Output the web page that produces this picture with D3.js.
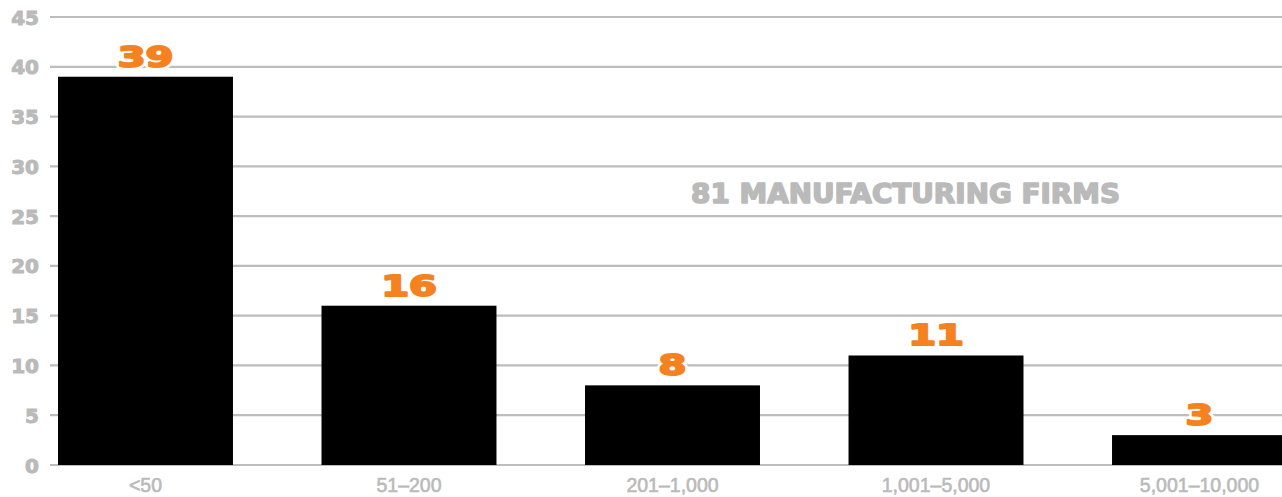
<!DOCTYPE html>
<html><head><meta charset="utf-8">
<script src="https://cdn.jsdelivr.net/npm/d3@7"></script>
<style>
html,body{margin:0;padding:0;background:#fff;overflow:hidden;}
</style></head>
<body>
<svg id="chart" width="1282" height="497"></svg>
<script>
const categories = ["<50", "51–200", "201–1,000", "1,001–5,000", "5,001–10,000"];
const values = [39, 16, 8, 11, 3];
const yTicks = [0, 5, 10, 15, 20, 25, 30, 35, 40, 45];
const title = "81 MANUFACTURING FIRMS";

const svg = d3.select("#chart");
const W = 1282, H = 497;
const gray = "#bababa";
const orange = "#f5821f";

const y = d3.scaleLinear().domain([0, 45]).range([465, 17]);
const x = d3.scaleBand().domain(categories).range([58, 1287]).paddingInner(0.336).paddingOuter(0);

// gridlines
svg.append("g").selectAll("line").data(yTicks).join("line")
  .attr("x1", 50).attr("x2", W)
  .attr("y1", d => y(d)).attr("y2", d => y(d))
  .attr("stroke", "#bdbdbd").attr("stroke-width", 2.2);

// y tick labels
svg.append("g").selectAll("text").data(yTicks).join("text")
  .attr("x", 39).attr("y", d => y(d) + 7.5)
  .attr("text-anchor", "end")
  .attr("font-family", "DejaVu Sans").attr("font-weight", "bold").attr("font-size", 20)
  .attr("fill", gray).attr("stroke", gray).attr("stroke-width", 1)
  .text(d => d);

// bars
svg.append("g").selectAll("rect").data(values).join("rect")
  .attr("x", (d, i) => x(categories[i]))
  .attr("width", x.bandwidth())
  .attr("y", d => y(d))
  .attr("height", d => y(0) - y(d))
  .attr("fill", "#000");

// category labels
svg.append("g").selectAll("text").data(categories).join("text")
  .attr("x", d => x(d) + x.bandwidth() / 2)
  .attr("y", 492)
  .attr("text-anchor", "middle")
  .attr("font-family", "Liberation Sans, Arial").attr("font-size", 19.5)
  .attr("fill", gray).attr("stroke", gray).attr("stroke-width", 0.6)
  .text(d => d);

// value labels: white halo then heavy orange
const vl = svg.append("g");
[["#fff", 6], [orange, 2]].forEach(([sc, sw]) => {
  vl.append("g").selectAll("text").data(values).join("text")
    .attr("transform", (d, i) => `translate(${x(categories[i]) + x.bandwidth() / 2},${y(d) - 10}) scale(1.38,1)`)
    .attr("text-anchor", "middle")
    .attr("font-family", "DejaVu Sans").attr("font-weight", "bold").attr("font-size", 29)
    .attr("fill", orange)
    .attr("stroke", sc).attr("stroke-width", sw).attr("stroke-linejoin", "round")
    .text(d => d);
});

// title
const t = svg.append("text")
  .attr("transform", "translate(905.5,203)")
  .attr("text-anchor", "middle")
  .attr("font-family", "DejaVu Sans").attr("font-weight", "bold").attr("font-size", 27)
  .attr("fill", gray).attr("stroke", gray).attr("stroke-width", 1.6).attr("stroke-linejoin", "round")
  .text(title);
const len = t.node().getComputedTextLength();
t.attr("transform", `translate(905.5,203) scale(${429 / len},1)`);
</script>
</body></html>
